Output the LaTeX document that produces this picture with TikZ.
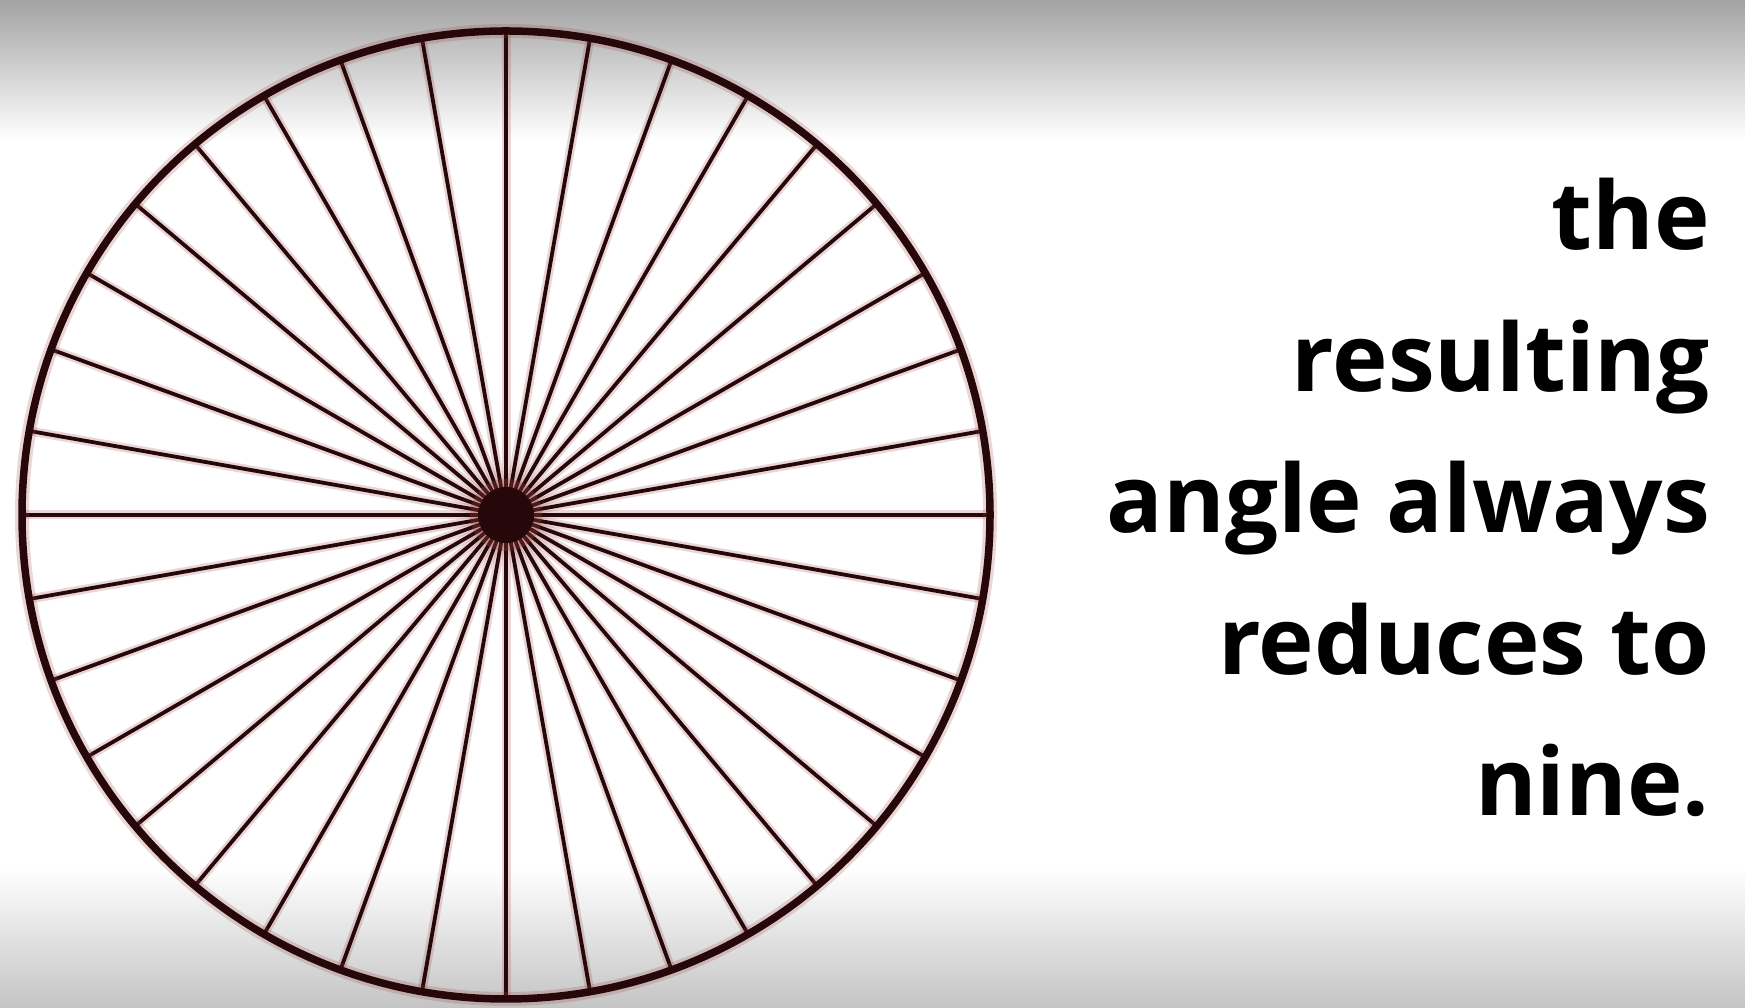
\documentclass[tikz,border=0pt]{standalone}
\usepackage{fontspec}
\usetikzlibrary{calc}
\newfontfamily\captionfont{Open Sans}
\definecolor{spoke}{RGB}{38,8,10}
\definecolor{halo}{RGB}{160,70,70}
\definecolor{topgray}{RGB}{163,163,163}
\definecolor{botgray}{RGB}{196,196,196}
\tikzset{
  spokeline/.style={draw=spoke, line width=3.8pt},
  spokehalo/.style={draw=halo, line width=9pt, opacity=0.22},
  rimline/.style={draw=spoke, line width=7.5pt},
  rimhalo/.style={draw=halo, line width=14pt, opacity=0.22},
  caption/.style={anchor=base east, inner sep=0pt, font=\captionfont\bfseries\fontsize{94}{110}\selectfont, text=black},
}
\begin{document}
\begin{tikzpicture}[x=1pt,y=1pt]
  \useasboundingbox (0,0) rectangle (1745,1008);
  % background
  \fill[white] (0,0) rectangle (1745,1008);
  \shade[top color=topgray, bottom color=white] (0,868) rectangle (1745,1008);
  \shade[top color=white, bottom color=botgray] (0,0) rectangle (1745,140);
  % wheel
  \coordinate (c) at (506,493);
  \foreach \a in {0,10,...,170} {
    \draw[spokehalo] ($(c)+(\a:484)$) -- ($(c)+(\a+180:484)$);
  }
  \foreach \a in {0,10,...,170} {
    \draw[spokeline] ($(c)+(\a:484)$) -- ($(c)+(\a+180:484)$);
  }
  \draw[rimhalo] (c) circle[radius=484];
  \draw[rimline] (c) circle[radius=484];
  \fill[halo, opacity=0.3] (c) circle[radius=36];
  \node[circle, fill=spoke, minimum size=56pt, inner sep=0pt] (hub) at (c) {};
  % text
  \node[caption] (l1) at (1710,758) {the};
  \node[caption] (l2) at (1710,616) {resulting};
  \node[caption] (l3) at (1710,475) {angle always};
  \node[caption] (l4) at (1710,333) {reduces to};
  \node[caption] (l5) at (1710,192) {nine.};
\end{tikzpicture}
\end{document}
